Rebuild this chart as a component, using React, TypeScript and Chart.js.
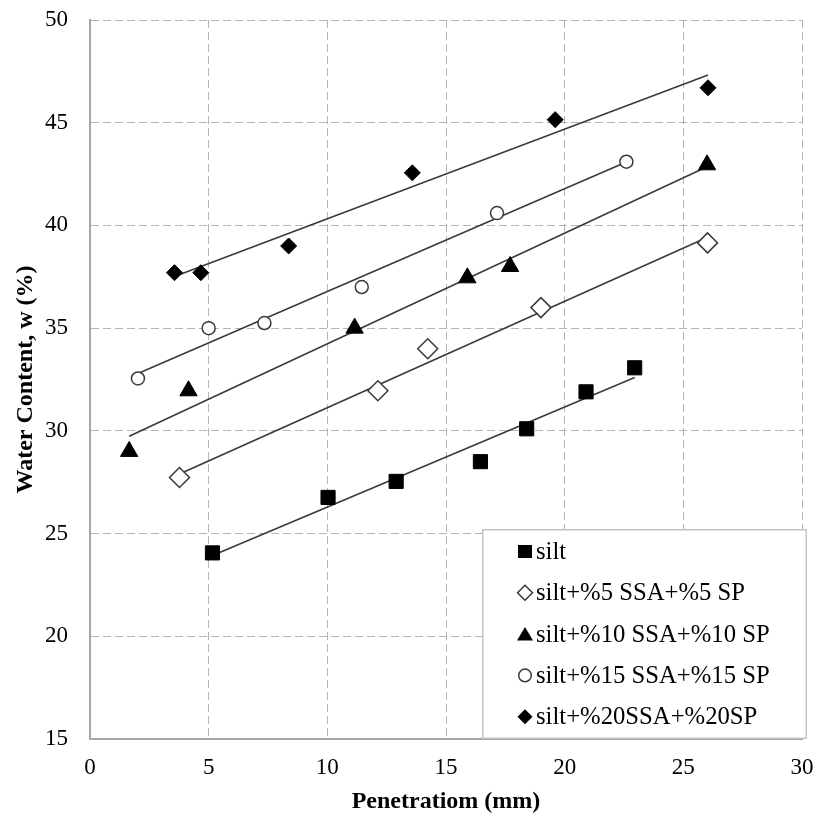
import React, { useEffect, useRef } from "react";
import { Chart, registerables } from "chart.js";

Chart.register(...registerables);

// ---- Data ----
const seriesLabels = [
  "silt",
  "silt+%5 SSA+%5 SP",
  "silt+%10 SSA+%10 SP",
  "silt+%15 SSA+%15 SP",
  "silt+%20SSA+%20SP",
];

const siltX = [5.16, 10.03, 12.9, 16.45, 18.4, 20.9, 22.95];
const siltY = [24.06, 26.76, 27.54, 28.5, 30.1, 31.9, 33.07];

const ssa5X = [3.77, 12.13, 14.23, 19.0, 26.02];
const ssa5Y = [27.73, 31.95, 34.0, 36.0, 39.15];

const ssa10X = [1.65, 4.15, 11.15, 15.9, 17.7, 26.0];
const ssa10Y = [29.0, 31.95, 35.0, 37.45, 38.0, 42.95];

const ssa15X = [2.02, 5.0, 7.35, 11.45, 17.15, 22.6];
const ssa15Y = [32.55, 35.0, 35.25, 37.0, 40.6, 43.1];

const ssa20X = [3.56, 4.67, 8.37, 13.58, 19.6, 26.04];
const ssa20Y = [37.7, 37.7, 39.0, 42.56, 45.15, 46.7];

// trend lines (end points)
const trendSiltX = [5.16, 22.95];
const trendSiltY = [23.93, 32.6];
const trend5X = [3.77, 26.02];
const trend5Y = [27.9, 39.42];
const trend10X = [1.65, 26.0];
const trend10Y = [29.74, 42.86];
const trend15X = [2.02, 22.6];
const trend15Y = [32.79, 43.09];
const trend20X = [3.56, 26.04];
const trend20Y = [37.51, 47.32];

const xMin = 0;
const xMax = 30;
const xStep = 5;
const yMin = 15;
const yMax = 50;
const yStep = 5;

const xTitle = "Penetratiom (mm)";
const yTitle = "Water Content, w (%)";

const FONT = '"Liberation Serif", "Times New Roman", serif';
const DARK = "#3a3a3a";

const zip = (xs: number[], ys: number[]) => xs.map((x, i) => ({ x, y: ys[i] }));

type Kind = "square" | "diamondOpen" | "triangle" | "circleOpen" | "diamond";
const kinds: Kind[] = ["square", "diamondOpen", "triangle", "circleOpen", "diamond"];

function drawLegendMarker(ctx: CanvasRenderingContext2D, kind: Kind, x: number, y: number) {
  ctx.save();
  ctx.lineWidth = 1.5;
  ctx.strokeStyle = DARK;
  ctx.fillStyle = "#000";
  ctx.beginPath();
  if (kind === "square") {
    ctx.rect(x - 7, y - 6.5, 14, 13);
    ctx.fill();
  } else if (kind === "diamond" || kind === "diamondOpen") {
    const r = 7.5;
    ctx.moveTo(x, y - r);
    ctx.lineTo(x + r, y);
    ctx.lineTo(x, y + r);
    ctx.lineTo(x - r, y);
    ctx.closePath();
    if (kind === "diamond") ctx.fill();
    else {
      ctx.fillStyle = "#fff";
      ctx.fill();
      ctx.stroke();
    }
  } else if (kind === "triangle") {
    ctx.moveTo(x, y - 7);
    ctx.lineTo(x + 8, y + 6.5);
    ctx.lineTo(x - 8, y + 6.5);
    ctx.closePath();
    ctx.fill();
  } else {
    ctx.arc(x, y, 6.3, 0, Math.PI * 2);
    ctx.fillStyle = "#fff";
    ctx.fill();
    ctx.stroke();
  }
  ctx.restore();
}

const boxLegend = {
  id: "boxLegend",
  afterDraw(chart: any) {
    const ctx: CanvasRenderingContext2D = chart.ctx;
    ctx.save();
    const bx = 482;
    const by = 529;
    const bw = 325;
    const bh = 210;
    ctx.fillStyle = "#fff";
    ctx.fillRect(bx, by, bw, bh);
    ctx.strokeStyle = "#c4c4c4";
    ctx.lineWidth = 1.5;
    ctx.strokeRect(bx + 0.75, by + 0.75, bw - 1.5, bh - 1.5);
    ctx.font = `24.7px ${FONT}`;
    ctx.fillStyle = "#000";
    ctx.textBaseline = "alphabetic";
    ctx.textAlign = "left";
    seriesLabels.forEach((label, i) => {
      const base = 559 + 41.3 * i;
      drawLegendMarker(ctx, kinds[i], 525, base - 7.5);
      ctx.fillText(label, 536, base);
    });
    ctx.restore();
  },
};

export default function App() {
  const ref = useRef<HTMLCanvasElement | null>(null);

  useEffect(() => {
    document.body.style.margin = "0";
    const canvas = ref.current;
    if (!canvas) return;

    const scatterBase = {
      type: "scatter" as const,
      showLine: false,
      order: 0,
    };
    const lineBase = {
      type: "line" as const,
      borderColor: DARK,
      borderWidth: 1.6,
      pointRadius: 0,
      fill: false,
      order: 1,
    };

    const chart = new Chart(canvas, {
      type: "scatter",
      data: {
        datasets: [
          {
            ...scatterBase,
            label: seriesLabels[0],
            data: zip(siltX, siltY),
            pointStyle: "rect",
            pointRadius: 10,
            backgroundColor: "#000",
            borderColor: "#000",
            borderWidth: 1,
          },
          {
            ...scatterBase,
            label: seriesLabels[1],
            data: zip(ssa5X, ssa5Y),
            pointStyle: "rectRot",
            pointRadius: 10,
            backgroundColor: "#fff",
            borderColor: DARK,
            borderWidth: 1.5,
          },
          {
            ...scatterBase,
            label: seriesLabels[2],
            data: zip(ssa10X, ssa10Y),
            pointStyle: "triangle",
            pointRadius: 10,
            backgroundColor: "#000",
            borderColor: "#000",
            borderWidth: 1,
          },
          {
            ...scatterBase,
            label: seriesLabels[3],
            data: zip(ssa15X, ssa15Y),
            pointStyle: "circle",
            pointRadius: 6.5,
            backgroundColor: "#fff",
            borderColor: DARK,
            borderWidth: 1.5,
          },
          {
            ...scatterBase,
            label: seriesLabels[4],
            data: zip(ssa20X, ssa20Y),
            pointStyle: "rectRot",
            pointRadius: 8,
            backgroundColor: "#000",
            borderColor: "#000",
            borderWidth: 1,
          },
          { ...lineBase, label: "t0", data: zip(trendSiltX, trendSiltY) },
          { ...lineBase, label: "t1", data: zip(trend5X, trend5Y) },
          { ...lineBase, label: "t2", data: zip(trend10X, trend10Y) },
          { ...lineBase, label: "t3", data: zip(trend15X, trend15Y) },
          { ...lineBase, label: "t4", data: zip(trend20X, trend20Y) },
        ] as any,
      },
      options: {
        responsive: false,
        animation: false,
        devicePixelRatio: 1,
        layout: { padding: { top: 20, right: 17, left: 0, bottom: 0 } },
        plugins: {
          legend: { display: false },
          tooltip: { enabled: false },
        },
        scales: {
          x: {
            type: "linear",
            min: xMin,
            max: xMax,
            afterFit: (s: any) => {
              s.height = 79;
              s.paddingLeft = 0;
              s.paddingRight = 0;
            },
            ticks: {
              stepSize: xStep,
              color: "#000",
              padding: 15,
              font: { family: FONT, size: 23 },
              maxRotation: 0,
            },
            grid: {
              color: "#b5b5b5",
              lineWidth: 1,
              drawTicks: false,
            },
            border: { display: true, color: "#a6a6a6", width: 2, dash: [8, 4] },
            title: {
              display: true,
              text: xTitle,
              color: "#000",
              font: { family: FONT, size: 24, weight: "bold" },
              padding: { top: 0, bottom: 1.5 },
            },
          },
          y: {
            type: "linear",
            min: yMin,
            max: yMax,
            afterFit: (s: any) => {
              s.width = 90;
              s.paddingTop = 0;
              s.paddingBottom = 0;
            },
            ticks: {
              stepSize: yStep,
              color: "#000",
              padding: 22,
              font: { family: FONT, size: 23 },
            },
            grid: {
              color: "#b5b5b5",
              lineWidth: 1,
              drawTicks: false,
            },
            border: { display: true, color: "#a6a6a6", width: 2, dash: [8, 4] },
            title: {
              display: true,
              text: yTitle,
              color: "#000",
              font: { family: FONT, size: 24, weight: "bold" },
              padding: { top: 11.5, bottom: 0 },
            },
          },
        },
      } as any,
      plugins: [boxLegend],
    });

    return () => chart.destroy();
  }, []);

  return (
    <div style={{ width: 819, height: 818 }}>
      <canvas ref={ref} width={819} height={818} style={{ display: "block" }} />
    </div>
  );
}
